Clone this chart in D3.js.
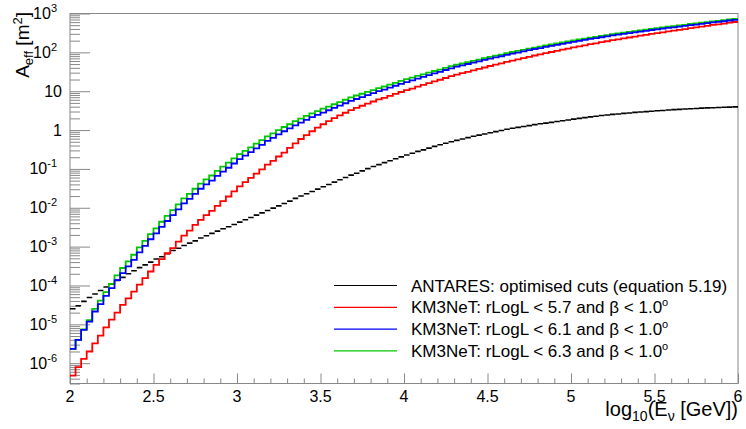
<!DOCTYPE html>
<html>
<head>
<meta charset="utf-8">
<script src="https://cdn.jsdelivr.net/npm/d3@7"></script>
<style>
body { margin: 0; background: #fff; }
svg { font-family: "Liberation Sans", Arial, Helvetica, sans-serif; }
</style>
</head>
<body>
<div id="chart"></div>
<script>
// histogram range in log10(E/GeV), 120 equal bins
const xLow = 2, xHigh = 6;

// effective area per bin [m2]
const antares = [
  2.51e-5,3.02e-5,3.89e-5,4.90e-5,6.03e-5,7.41e-5,9.12e-5,1.10e-4,1.35e-4,1.62e-4,
  2.00e-4,2.40e-4,2.88e-4,3.39e-4,3.98e-4,4.79e-4,5.50e-4,6.61e-4,7.94e-4,9.12e-4,
  1.07e-3,1.23e-3,1.41e-3,1.66e-3,1.91e-3,2.19e-3,2.51e-3,2.88e-3,3.24e-3,3.72e-3,
  4.27e-3,4.90e-3,5.62e-3,6.46e-3,7.41e-3,8.51e-3,9.77e-3,1.12e-2,1.29e-2,1.48e-2,
  1.74e-2,2.00e-2,2.29e-2,2.63e-2,3.02e-2,3.47e-2,3.98e-2,4.57e-2,5.25e-2,6.03e-2,
  6.92e-2,7.76e-2,8.91e-2,0.102,0.115,0.129,0.145,0.162,0.182,0.204,
  0.229,0.254,0.282,0.309,0.343,0.380,0.417,0.457,0.501,0.543,
  0.589,0.638,0.692,0.741,0.794,0.851,0.912,0.977,1.05,1.11,
  1.17,1.24,1.30,1.38,1.45,1.51,1.58,1.66,1.74,1.82,
  1.91,2.00,2.09,2.19,2.26,2.37,2.45,2.54,2.60,2.69,
  2.75,2.85,2.92,2.99,3.05,3.13,3.20,3.27,3.35,3.41,
  3.47,3.53,3.59,3.66,3.72,3.76,3.80,3.85,3.89,3.94
];
const km3_57 = [
  4.79e-7,7.94e-7,1.29e-6,2.00e-6,3.24e-6,5.13e-6,8.32e-6,1.32e-5,2.00e-5,3.16e-5,
  4.68e-5,6.92e-5,1.05e-4,1.55e-4,2.29e-4,3.39e-4,4.79e-4,6.76e-4,9.12e-4,1.35e-3,
  1.91e-3,2.57e-3,3.63e-3,4.90e-3,6.46e-3,8.32e-3,1.12e-2,1.48e-2,1.95e-2,2.63e-2,
  3.55e-2,4.57e-2,5.89e-2,7.59e-2,9.77e-2,0.129,0.162,0.209,0.263,0.347,
  0.457,0.589,0.741,0.933,1.15,1.41,1.70,2.04,2.40,2.79,
  3.27,3.72,4.22,4.79,5.43,6.17,6.76,7.59,8.51,9.55,
  10.6,11.7,13.1,14.5,16.1,17.9,19.7,21.9,24.4,26.8,
  29.1,31.6,34.3,37.4,40.8,44.6,48.1,51.9,56.8,61.2,
  66.1,71.3,76.9,83.0,88.5,95.5,102,109,117,125,
  134,143,152,162,171,183,193,206,217,229,
  241,254,268,282,299,311,328,347,361,381,
  397,419,437,461,481,507,528,551,581,605
];
const km3_61 = [
  2.34e-6,3.98e-6,7.24e-6,1.18e-5,2.14e-5,3.31e-5,5.37e-5,8.51e-5,1.38e-4,2.09e-4,
  3.09e-4,4.57e-4,7.08e-4,1.05e-3,1.55e-3,2.19e-3,3.24e-3,4.57e-3,6.46e-3,9.12e-3,
  1.29e-2,1.70e-2,2.29e-2,3.09e-2,3.98e-2,5.01e-2,6.61e-2,8.51e-2,0.107,0.138,
  0.178,0.219,0.269,0.339,0.417,0.525,0.631,0.776,0.933,1.10,
  1.32,1.55,1.82,2.14,2.45,2.82,3.24,3.72,4.27,4.90,
  5.62,6.31,7.08,7.94,8.91,10.0,11.0,12.3,13.8,15.5,
  17.2,19.1,21.1,23.4,26.0,28.8,31.6,35.1,38.9,42.7,
  46.2,50.1,54.3,58.9,63.8,69.2,74.1,79.4,86.1,92.3,
  98.9,106,114,122,129,138,146,155,166,176,
  186,197,209,221,232,245,257,272,285,299,
  313,327,343,359,376,389,407,427,442,462,
  479,501,519,543,562,589,610,631,661,684
];
const km3_63 = [
  2.34e-6,3.98e-6,7.41e-6,1.29e-5,2.51e-5,4.07e-5,6.76e-5,1.10e-4,1.82e-4,2.82e-4,
  4.17e-4,6.17e-4,9.55e-4,1.41e-3,2.09e-3,2.95e-3,4.37e-3,6.17e-3,8.71e-3,1.23e-2,
  1.74e-2,2.29e-2,3.09e-2,4.17e-2,5.37e-2,6.76e-2,8.91e-2,0.115,0.145,0.186,
  0.240,0.292,0.359,0.447,0.550,0.684,0.822,1.00,1.20,1.41,
  1.70,1.97,2.32,2.69,3.09,3.55,4.03,4.62,5.25,6.03,
  6.92,7.76,8.61,9.66,10.7,12.0,13.2,14.8,16.4,18.4,
  20.4,22.4,24.7,27.2,30.1,33.1,36.1,39.8,44.0,47.9,
  51.6,55.7,60.3,65.3,70.8,76.6,82.0,87.7,95.1,102,
  109,116,125,133,141,151,160,169,181,191,
  202,214,226,240,251,265,278,294,308,322,
  337,352,369,385,404,418,437,457,473,494,
  512,536,553,579,600,627,649,671,703,728
];

const xMajor = [2, 2.5, 3, 3.5, 4, 4.5, 5, 5.5, 6];
const xLabels = ["2", "2.5", "3", "3.5", "4", "4.5", "5", "5.5", "6"];
const yMajor = [1e-6, 1e-5, 1e-4, 1e-3, 1e-2, 1e-1, 1, 10, 100, 1000];
const yLabels = [["10","-6"],["10","-5"],["10","-4"],["10","-3"],["10","-2"],["10","-1"],["1",""],["10",""],["10","2"],["10","3"]];
const legendNames = [
  "ANTARES: optimised cuts (equation 5.19)",
  "KM3NeT: rLogL < 5.7 and β < 1.0",
  "KM3NeT: rLogL < 6.1 and β < 1.0",
  "KM3NeT: rLogL < 6.3 and β < 1.0"
];

const width = 746, height = 429;
const axisCol = '#888';

const svg = d3.select('#chart').append('svg')
  .attr('width', width).attr('height', height);

const x = d3.scaleLinear().domain([xLow, xHigh]).range([70, 738]);
const y = d3.scaleLog().domain([3e-7, 1e3]).range([383.5, 13.5]);

const nBins = antares.length;
const edges = d3.range(nBins + 1).map(i => xLow + i * (xHigh - xLow) / nBins);

// clip to frame
svg.append('clipPath').attr('id', 'frame')
  .append('rect')
  .attr('x', x(xLow)).attr('y', y(1e3))
  .attr('width', x(xHigh) - x(xLow)).attr('height', y(3e-7) - y(1e3));

// ticks
const xMinor = d3.range(20, 61).map(d => d / 10).filter(d => !xMajor.includes(d));
const yMinor = [];
for (let e = -7; e <= 2; e++) {
  for (let m = 2; m <= 9; m++) {
    const v = m * Math.pow(10, e);
    if (v >= 3e-7 && v <= 1e3) yMinor.push(v);
  }
}

function styleAxis(g) {
  g.selectAll('line').attr('stroke', axisCol);
  g.selectAll('path').remove();
}

svg.append('g').attr('transform', `translate(0,${y(3e-7)})`)
  .call(d3.axisBottom(x).tickValues(xMinor).tickSize(-5).tickFormat(''))
  .call(styleAxis);
svg.append('g').attr('transform', `translate(0,${y(3e-7)})`)
  .call(d3.axisBottom(x).tickValues(xMajor).tickSize(-10).tickFormat(''))
  .call(styleAxis);
svg.append('g').attr('transform', `translate(${x(xLow)},0)`)
  .call(d3.axisLeft(y).tickValues(yMinor).tickSize(-10).tickFormat(''))
  .call(styleAxis);
svg.append('g').attr('transform', `translate(${x(xLow)},0)`)
  .call(d3.axisLeft(y).tickValues(yMajor).tickSize(-20).tickFormat(''))
  .call(styleAxis);

// frame
svg.append('rect')
  .attr('x', x(xLow)).attr('y', y(1e3))
  .attr('width', x(xHigh) - x(xLow)).attr('height', y(3e-7) - y(1e3))
  .attr('fill', 'none').attr('stroke', axisCol).attr('stroke-width', 1);

// x tick labels
svg.append('g').selectAll('text')
  .data(xMajor)
  .enter().append('text')
  .attr('x', d => x(d))
  .attr('y', 402)
  .attr('text-anchor', 'middle')
  .style('font-size', '16px')
  .text((d, i) => xLabels[i]);

// y tick labels
const yl = svg.append('g').selectAll('text')
  .data(yMajor)
  .enter().append('text')
  .attr('x', (d, i) => yLabels[i][1] ? 57 : 62)
  .attr('y', d => y(d) + 5.5)
  .attr('text-anchor', 'end')
  .style('font-size', '16px');
yl.append('tspan').text((d, i) => yLabels[i][0]);
yl.append('tspan')
  .attr('dy', -7)
  .style('font-size', '11px')
  .text((d, i) => yLabels[i][1]);

// y title
const yt = svg.append('text')
  .attr('transform', 'translate(29,12) rotate(-90)')
  .attr('text-anchor', 'end')
  .style('font-size', '19px');
yt.append('tspan').text('A');
yt.append('tspan').attr('dy', 4).style('font-size', '13px').text('eff');
yt.append('tspan').attr('dy', -4).text(' [m');
yt.append('tspan').attr('dy', -7).style('font-size', '13px').text('2');
yt.append('tspan').attr('dy', 7).text(']');

// x title
const xt = svg.append('text')
  .attr('x', 738).attr('y', 416)
  .attr('text-anchor', 'end')
  .style('font-size', '20px');
xt.append('tspan').text('log');
xt.append('tspan').attr('dy', 5).style('font-size', '14px').text('10');
xt.append('tspan').attr('dy', -5).text('(E');
xt.append('tspan').attr('dy', 5).style('font-size', '14px').text('ν');
xt.append('tspan').attr('dy', -5).text(' [GeV])');

// histograms
const plot = svg.append('g').attr('clip-path', 'url(#frame)');

// ANTARES: horizontal bin segments only
plot.append('g').selectAll('line')
  .data(antares)
  .enter().append('line')
  .attr('x1', (d, i) => x(edges[i]))
  .attr('x2', (d, i) => x(edges[i + 1]))
  .attr('y1', d => y(d))
  .attr('y2', d => y(d))
  .attr('stroke', '#000')
  .attr('stroke-width', 1.6);

const step = d3.line()
  .x(d => x(d[0]))
  .y(d => y(d[1]))
  .curve(d3.curveStepAfter);

function drawHist(values, color) {
  const pts = values.map((v, i) => [edges[i], v]);
  pts.push([edges[nBins], values[nBins - 1]]);
  plot.append('path')
    .attr('d', step(pts))
    .attr('fill', 'none')
    .attr('stroke', color)
    .attr('stroke-width', 1.8);
}

const colors = ['#000000', '#ff0000', '#0000ff', '#00c800'];
drawHist(km3_57, colors[1]);
drawHist(km3_63, colors[3]);
drawHist(km3_61, colors[2]);

// legend
const leg = svg.append('g').selectAll('g')
  .data(legendNames)
  .enter().append('g')
  .attr('transform', (d, i) => `translate(0,${285.5 + i * 21.8})`);
leg.append('line')
  .attr('x1', 334).attr('x2', 397)
  .attr('stroke', (d, i) => colors[i])
  .attr('stroke-width', 1.2);
const lt = leg.append('text')
  .attr('x', 411).attr('y', 6)
  .style('font-size', '17px');
lt.append('tspan').text(d => d);
lt.append('tspan')
  .attr('dy', -7)
  .style('font-size', '11px')
  .text((d, i) => i > 0 ? 'o' : '');
</script>
</body>
</html>
